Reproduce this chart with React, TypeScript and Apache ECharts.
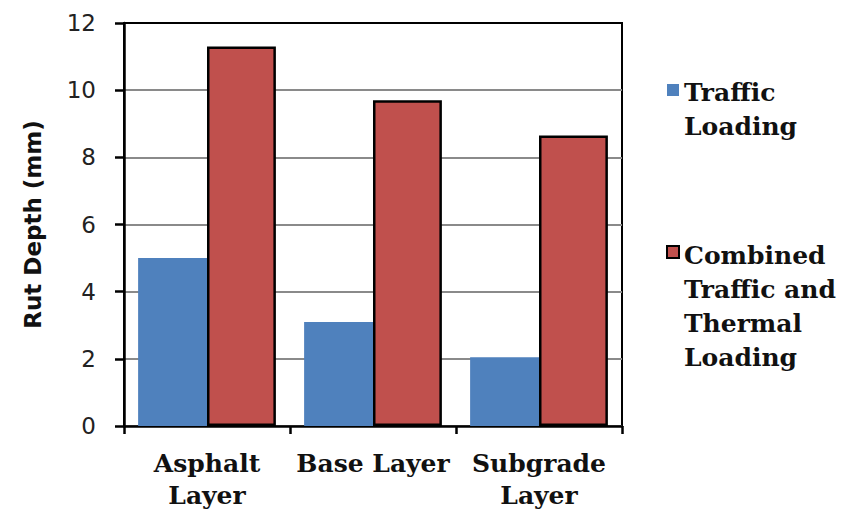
import React, { useEffect, useRef } from "react";
import * as echarts from "echarts";

const categories = ["Asphalt\nLayer", "Base Layer", "Subgrade\nLayer"];
const trafficLoading = [5.0, 3.1, 2.05];
const combinedLoading = [11.3, 9.7, 8.65];
const seriesNames = ["Traffic\nLoading", "Combined\nTraffic and\nThermal\nLoading"];
const yTicks = { min: 0, max: 12, interval: 2 };

const BLUE = "#4F81BD";
const RED = "#C0504D";
const SERIF = "DejaVu Serif";
const SANS = "DejaVu Sans";

export default function App() {
  const ref = useRef<HTMLDivElement>(null);

  useEffect(() => {
    if (!ref.current) return;
    const chart = echarts.init(ref.current, undefined, { renderer: "svg" });

    const gridLineColors = [0, 2, 4, 6, 8, 10, 12].map((v) =>
      v === yTicks.max ? "#000" : "#8a8a8a"
    );

    const legendText = (text: string, x: number, y: number) => ({
      type: "text",
      x,
      y,
      style: {
        text,
        fontFamily: SERIF,
        fontWeight: "bold",
        fontSize: 25,
        lineHeight: 34,
        fill: "#111",
        verticalAlign: "top",
      },
    });

    chart.setOption({
      animation: false,
      backgroundColor: "#fff",
      grid: {
        left: 124,
        right: 221,
        top: 23,
        bottom: 94,
        show: true,
        borderColor: "#000",
        borderWidth: 2,
        backgroundColor: "transparent",
      },
      xAxis: {
        type: "category",
        data: categories,
        axisLine: { lineStyle: { color: "#000", width: 2.5 } },
        axisTick: { show: true, length: 8, lineStyle: { color: "#000", width: 2.5 } },
        axisLabel: {
          interval: 0,
          margin: 21,
          fontFamily: SERIF,
          fontWeight: "bold",
          fontSize: 25,
          lineHeight: 32,
          color: "#111",
        },
      },
      yAxis: {
        type: "value",
        min: yTicks.min,
        max: yTicks.max,
        interval: yTicks.interval,
        name: "Rut Depth (mm)",
        nameLocation: "middle",
        nameGap: 80,
        nameTextStyle: {
          fontFamily: SANS,
          fontWeight: "bold",
          fontSize: 23,
          color: "#111",
        },
        axisLine: { show: true, lineStyle: { color: "#000", width: 2.5 } },
        axisTick: { show: true, length: 9, lineStyle: { color: "#000", width: 2.5 } },
        axisLabel: {
          margin: 28,
          fontFamily: SANS,
          fontSize: 23,
          color: "#222",
        },
        splitLine: { show: true, lineStyle: { color: gridLineColors, width: 2 } },
      },
      series: [
        {
          name: seriesNames[0],
          type: "bar",
          data: trafficLoading,
          barGap: "0%",
          barCategoryGap: "17%",
          itemStyle: { color: BLUE },
        },
        {
          name: seriesNames[1],
          type: "bar",
          data: combinedLoading,
          barGap: "0%",
          barCategoryGap: "17%",
          itemStyle: { color: RED, borderColor: "#000", borderWidth: 2.5 },
        },
      ],
      graphic: [
        {
          type: "rect",
          shape: { x: 667, y: 84, width: 12, height: 12 },
          style: { fill: BLUE },
        },
        legendText(seriesNames[0], 684, 75),
        {
          type: "rect",
          shape: { x: 667, y: 246, width: 12, height: 12 },
          style: { fill: RED, stroke: "#000", lineWidth: 2 },
        },
        legendText(seriesNames[1], 684, 238),
      ],
    });

    return () => chart.dispose();
  }, []);

  return <div ref={ref} style={{ width: 843, height: 520, position: "absolute", left: 0, top: 0 }} />;
}
